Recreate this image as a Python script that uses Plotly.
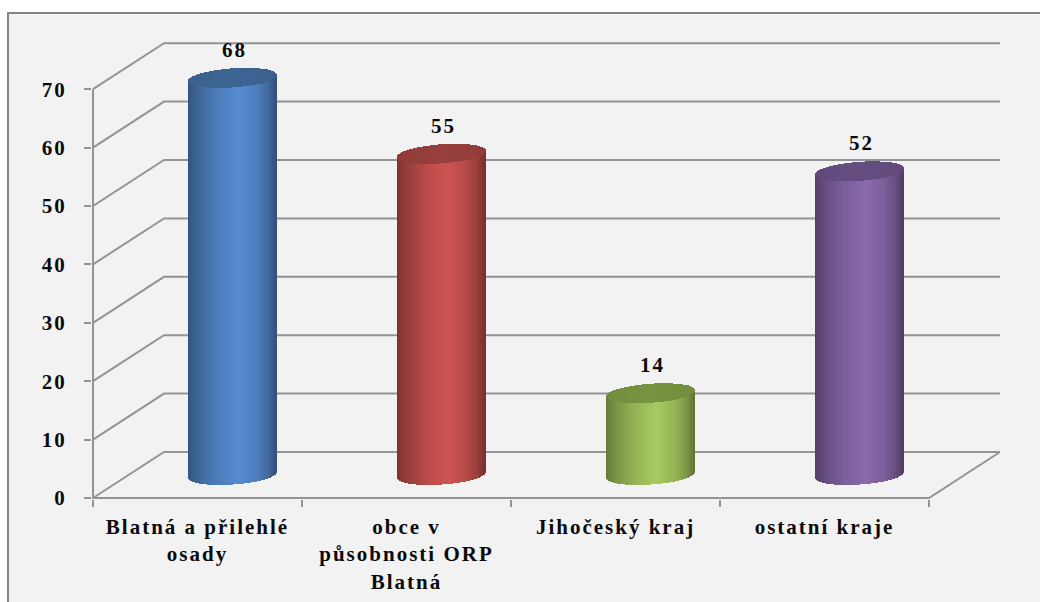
import math
import plotly.graph_objects as go

categories = ["Blatná a přilehlé<br>osady", "obce v<br>působnosti ORP<br>Blatná", "Jihočeský kraj", "ostatní kraje"]
values = [68, 55, 14, 52]
y_ticks = [0, 10, 20, 30, 40, 50, 60, 70]
bright = ["#568cd2", "#ce5451", "#a8ca60", "#8b6aae"]
cap = ["#3c6391", "#943e3b", "#77913f", "#634c7e"]

FONT = dict(family="Liberation Serif", size=21, color="#0a0a0a", weight=700)
LINE = "#949494"
PX_X = 209.0      # pixels per category
PX_Y = 5.84       # pixels per value unit
X0, Y0 = 93, 498  # pixel origin of the axes
PL, PB = 92, 499  # pixel corner of the plot area
W, H = 1040, 602
DX, DY = 71 / PX_X, 46 / PX_Y      # depth of the floor
R = 44 / PX_X                      # cylinder radius
RY, TILT = 9.5 / PX_Y, 3.0 / PX_Y  # ellipse half-height and tilt
N = 90


def rgb(h):
    return [int(h[i:i + 2], 16) for i in (1, 3, 5)]


def shade(h, f):
    return "rgb(%d,%d,%d)" % tuple(min(255, round(c * f)) for c in rgb(h))


def body_factor(t):
    stops = [(-1, .60), (-.75, .74), (-.35, .89), (.15, 1.0), (.55, .89), (.85, .72), (1, .58)]
    for (a, fa), (b, fb) in zip(stops, stops[1:]):
        if t <= b:
            return fa + (fb - fa) * (t - a) / (b - a)
    return stops[-1][1]


fig = go.Figure()
for i, (val, col, capcol) in enumerate(zip(values, bright, cap)):
    cx = i + .5 + DX / 2
    cy = DY / 2
    ts = [-1 + 2 * (k + .5) / N for k in range(N)]
    xs = [cx + t * R for t in ts]
    front = [TILT * t - RY * math.sqrt(1 - t * t) for t in ts]
    back = [TILT * t + RY * math.sqrt(1 - t * t) for t in ts]
    w = 2 * R / N * 1.35
    fig.add_trace(go.Bar(
        x=xs, y=[val] * N, base=[cy + f for f in front], width=w,
        marker=dict(color=[shade(col, body_factor(t)) for t in ts], line_width=0),
        showlegend=False, hoverinfo="skip"))
    fig.add_trace(go.Bar(
        x=xs, y=[b - f for b, f in zip(back, front)], base=[cy + val + f for f in front], width=w,
        marker=dict(color=[shade(capcol, .97 + .05 * (1 - abs(t))) for t in ts], line_width=0),
        showlegend=False, hoverinfo="skip"))

# data labels
fig.add_trace(go.Scatter(
    x=[i + .5 + DX / 2 + 1.5 / PX_X for i in range(len(values))],
    y=[v + DY / 2 + 26.5 / PX_Y for v in values],
    mode="text", text=[str(v) for v in values], textposition="middle center",
    textfont=FONT, showlegend=False, hoverinfo="skip"))

shapes = [dict(type="rect", xref="paper", yref="paper",
               x0=(8 - PL) / (W - PL), x1=1.05, y0=-0.5, y1=(PB - 13) / (PB),
               fillcolor="#f2f2f2", line=dict(color="#858585", width=2), layer="below")]
n = len(categories)
for v in y_ticks:
    shapes.append(dict(type="path", xref="x", yref="y", layer="below",
                       path=f"M 0 {v} L {DX} {v + DY} L {n + DX} {v + DY}",
                       line=dict(color=LINE, width=2)))
shapes.append(dict(type="path", xref="x", yref="y", layer="below",
                   path=f"M 0 {y_ticks[-1]} L 0 0 L {n} 0 L {n + DX} {DY}",
                   line=dict(color=LINE, width=2)))

fig.update_layout(
    width=W, height=H, margin=dict(l=PL, r=0, t=0, b=H - PB, pad=0),
    paper_bgcolor="white", plot_bgcolor="rgba(0,0,0,0)",
    barmode="overlay", bargap=0, shapes=shapes, showlegend=False,
    xaxis=dict(range=[(PL - X0) / PX_X, (W - X0) / PX_X], showgrid=False, zeroline=False, showline=False,
               tickmode="array", tickvals=[i + .5 for i in range(n)], ticktext=categories,
               ticks="", tickfont=FONT, ticklabelstandoff=13, automargin=False,
               minor=dict(tickmode="array", tickvals=list(range(n + 1)), ticks="outside", ticklen=7,
                          tickcolor=LINE, tickwidth=2, showgrid=False)),
    yaxis=dict(range=[(Y0 - PB) / PX_Y, Y0 / PX_Y], showgrid=False, zeroline=False, showline=False,
               tickmode="array", tickvals=y_ticks, ticks="outside", ticklen=7, tickcolor=LINE, tickwidth=2,
               tickfont=FONT, ticklabelstandoff=13, automargin=False),
)
fig.write_html(
    "out.html",
    config=dict(displayModeBar=False),
    post_script="document.body.style.margin='0';"
                "document.body.style.overflow='hidden';"
                "document.querySelectorAll('.xtick text,.ytick text,.textpoint text')"
                ".forEach(function(t){t.style.letterSpacing='2px';});",
)
